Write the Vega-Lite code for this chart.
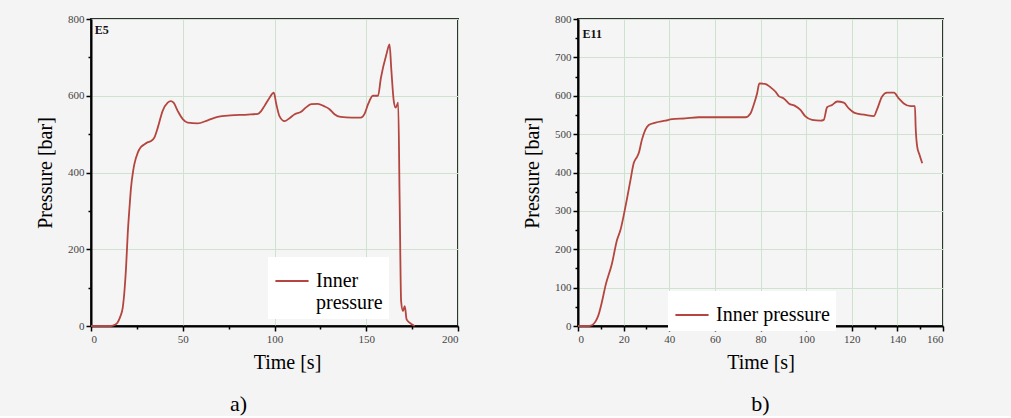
{
  "$schema": "https://vega.github.io/schema/vega-lite/v6.json",
  "background": "#f4f4f4",
  "padding": {"left": 34, "top": 12, "right": 75, "bottom": 0},
  "datasets": {
    "a": [
      {"t":0,"p":0},{"t":11,"p":0},{"t":13,"p":3},{"t":14.5,"p":9},{"t":16,"p":25},{"t":17.3,"p":48},{"t":18.3,"p":95},{"t":19.1,"p":152},{"t":20,"p":239},{"t":21,"p":310},{"t":21.8,"p":360},{"t":23,"p":405},{"t":23.6,"p":421},{"t":25.5,"p":452},{"t":27,"p":465},{"t":29,"p":473},{"t":31,"p":479},{"t":32.7,"p":482},{"t":34.5,"p":491},{"t":36.4,"p":517},{"t":39,"p":560},{"t":41.8,"p":582},{"t":43.5,"p":586},{"t":45,"p":582},{"t":47.3,"p":560},{"t":50,"p":539},{"t":52.7,"p":530},{"t":58,"p":528},{"t":63.6,"p":536},{"t":69,"p":545},{"t":76,"p":549},{"t":85.5,"p":551},{"t":91,"p":553},{"t":92.7,"p":560},{"t":94.5,"p":573},{"t":97.3,"p":595},{"t":99.6,"p":608},{"t":101,"p":578},{"t":102.7,"p":547},{"t":105.5,"p":534},{"t":108,"p":541},{"t":111,"p":552},{"t":114.5,"p":558},{"t":117,"p":569},{"t":120,"p":578},{"t":123.6,"p":579},{"t":127,"p":573},{"t":130,"p":565},{"t":132.7,"p":552},{"t":136,"p":545},{"t":142,"p":543},{"t":147,"p":543},{"t":149,"p":552},{"t":151,"p":578},{"t":153.6,"p":600},{"t":156.4,"p":600},{"t":158,"p":647},{"t":161,"p":708},{"t":162.7,"p":734},{"t":163.6,"p":673},{"t":165,"p":586},{"t":166,"p":569},{"t":167,"p":578},{"t":167.4,"p":582},{"t":168.2,"p":326},{"t":169,"p":65},{"t":170,"p":39},{"t":171,"p":52},{"t":172,"p":17},{"t":173.6,"p":9},{"t":176.4,"p":0}
    ],
    "b": [
      {"t":0,"p":0},{"t":5,"p":0},{"t":7.6,"p":11},{"t":9,"p":29},{"t":10.5,"p":63},{"t":12,"p":104},{"t":14.9,"p":163},{"t":17.1,"p":224},{"t":18.6,"p":250},{"t":20.8,"p":311},{"t":23,"p":380},{"t":24.4,"p":424},{"t":25.9,"p":441},{"t":26.6,"p":450},{"t":28,"p":485},{"t":29.5,"p":511},{"t":31,"p":524},{"t":34,"p":530},{"t":38.3,"p":535},{"t":41.2,"p":539},{"t":47,"p":541},{"t":53,"p":544},{"t":64.6,"p":544},{"t":73.4,"p":544},{"t":75.6,"p":554},{"t":77,"p":576},{"t":78.5,"p":606},{"t":79.5,"p":632},{"t":82,"p":631},{"t":84.4,"p":622},{"t":86.5,"p":611},{"t":88,"p":599},{"t":90.2,"p":593},{"t":92.4,"p":580},{"t":95.3,"p":573},{"t":97.5,"p":563},{"t":99.7,"p":546},{"t":102.6,"p":537},{"t":106.3,"p":535},{"t":107.7,"p":537},{"t":109.2,"p":570},{"t":111.4,"p":576},{"t":113.6,"p":585},{"t":116.5,"p":582},{"t":118.7,"p":567},{"t":121,"p":556},{"t":123,"p":553},{"t":126,"p":550},{"t":129.7,"p":547},{"t":131,"p":563},{"t":133.3,"p":598},{"t":135.5,"p":608},{"t":138.5,"p":608},{"t":140.6,"p":593},{"t":142.8,"p":580},{"t":145.8,"p":573},{"t":147.7,"p":573},{"t":148,"p":520},{"t":148.7,"p":467},{"t":149.7,"p":446},{"t":150.9,"p":424}
    ]
  },
  "spacing": 61,
  "hconcat": [
    {
      "width": 367,
      "height": 307,
      "title": {"text": "a)", "orient": "bottom", "dx": -36, "offset": 22},
      "layer": [
        {
          "data": {"name": "a"},
          "mark": {"type": "line", "color": "#b4453f", "strokeWidth": 1.8, "interpolate": "monotone"},
          "encoding": {
            "x": {"field": "t", "type": "quantitative", "scale": {"domain": [0, 200], "nice": false},
                  "axis": {"values": [0, 50, 100, 150, 200], "grid": true, "title": "Time [s]", "titleX": 196, "orient": "bottom"}},
            "y": {"field": "p", "type": "quantitative", "scale": {"domain": [0, 800], "nice": false},
                  "axis": {"values": [0, 200, 400, 600, 800], "grid": true, "title": "Pressure [bar]", "orient": "left"}},
            "color": {"datum": "Inner pressure", "type": "nominal", "scale": {"range": ["#b4453f"]},
                      "legend": {"orient": "none", "legendX": 177, "legendY": 238, "labelExpr": "['Inner', 'pressure']"}}
          }
        },
        {
          "data": {"values": [{"label": "E5"}]},
          "mark": {"type": "text", "align": "left", "baseline": "middle", "font": "Liberation Serif", "fontWeight": "bold", "fontSize": 12, "color": "#111"},
          "encoding": {
            "text": {"field": "label"},
            "x": {"datum": 2, "type": "quantitative", "axis": {"orient": "bottom", "values": [25, 75, 125, 175], "labels": false, "domain": false, "grid": false, "tickSize": 3, "title": null}},
            "y": {"datum": 772, "type": "quantitative", "axis": {"orient": "left", "values": [100, 300, 500, 700], "labels": false, "domain": false, "grid": false, "tickSize": 3, "title": null}}
          }
        }
      ],
      "resolve": {"axis": {"x": "independent", "y": "independent"}}
    },
    {
      "width": 365,
      "height": 307,
      "title": {"text": "b)", "orient": "bottom", "offset": 22},
      "layer": [
        {
          "data": {"name": "b"},
          "mark": {"type": "line", "color": "#b4453f", "strokeWidth": 1.8, "interpolate": "monotone"},
          "encoding": {
            "x": {"field": "t", "type": "quantitative", "scale": {"domain": [0, 160], "nice": false},
                  "axis": {"values": [0, 20, 40, 60, 80, 100, 120, 140, 160], "grid": true, "title": "Time [s]", "orient": "bottom"}},
            "y": {"field": "p", "type": "quantitative", "scale": {"domain": [0, 800], "nice": false},
                  "axis": {"values": [0, 100, 200, 300, 400, 500, 600, 700, 800], "grid": true, "title": "Pressure [bar]", "orient": "left"}},
            "color": {"datum": "Inner pressure", "type": "nominal", "scale": {"range": ["#b4453f"]},
                      "legend": {"orient": "none", "legendX": 90, "legendY": 272}}
          }
        },
        {
          "data": {"values": [{"label": "E11"}]},
          "mark": {"type": "text", "align": "left", "baseline": "middle", "font": "Liberation Serif", "fontWeight": "bold", "fontSize": 12, "color": "#111"},
          "encoding": {
            "text": {"field": "label"},
            "x": {"datum": 2, "type": "quantitative", "axis": {"orient": "bottom", "values": [10, 30, 50, 70, 90, 110, 130, 150], "labels": false, "domain": false, "grid": false, "tickSize": 3, "title": null}},
            "y": {"datum": 762, "type": "quantitative", "axis": {"orient": "left", "values": [50, 150, 250, 350, 450, 550, 650, 750], "labels": false, "domain": false, "grid": false, "tickSize": 3, "title": null}}
          }
        }
      ],
      "resolve": {"axis": {"x": "independent", "y": "independent"}}
    }
  ],
  "resolve": {"scale": {"color": "independent"}, "legend": {"color": "independent"}},
  "config": {
    "view": {"stroke": "#333", "strokeWidth": 2, "fill": "#f5f5f5"},
    "title": {"font": "Liberation Serif", "fontSize": 22, "fontWeight": "normal", "color": "black"},
    "axis": {
      "grid": false,
      "gridColor": "#cde3cd",
      "gridWidth": 1,
      "domainColor": "black",
      "domainWidth": 2,
      "tickColor": "black",
      "tickSize": 5,
      "tickWidth": 1.5,
      "labelFont": "Liberation Serif",
      "labelFontSize": 11,
      "labelColor": "#444",
      "labelPadding": 2,
      "titleFont": "Liberation Serif",
      "titleFontSize": 20,
      "titleFontWeight": "normal",
      "titleColor": "black",
      "titlePadding": 8
    },
    "axisY": {"titlePadding": 12},
    "legend": {
      "title": null,
      "fillColor": "white",
      "padding": 6,
      "symbolType": "stroke",
      "symbolSize": 1100,
      "symbolStrokeWidth": 2,
      "labelFont": "Liberation Serif",
      "labelFontSize": 20,
      "labelColor": "black",
      "labelOffset": 6
    }
  }
}
